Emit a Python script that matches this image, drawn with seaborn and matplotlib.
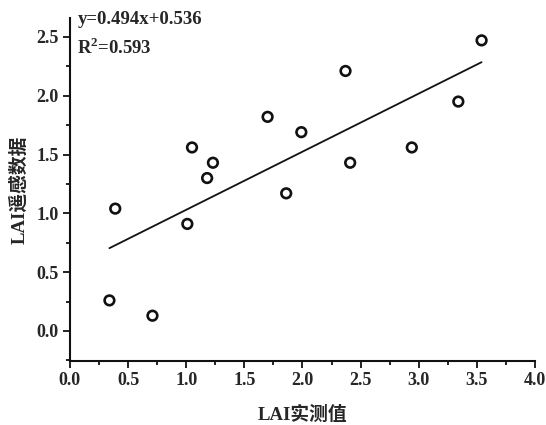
import matplotlib
matplotlib.use("Agg")
import matplotlib.pyplot as plt
import seaborn as sns
import numpy as np
import pandas as pd
from matplotlib.ticker import MultipleLocator

measured = [0.34, 0.39, 0.71, 1.01, 1.05, 1.18, 1.23, 1.70, 1.86, 1.99, 2.37, 2.41, 2.94, 3.34, 3.54]
remote = [0.26, 1.04, 0.13, 0.91, 1.56, 1.30, 1.43, 1.82, 1.17, 1.69, 2.21, 1.43, 1.56, 1.95, 2.47]
slope = 0.494
intercept = 0.536
eq_text = "y=0.494x+0.536"
r2_text = "R$^\\mathbf{2}$=0.593"
x_ticks = [0.0, 0.5, 1.0, 1.5, 2.0, 2.5, 3.0, 3.5, 4.0]
y_ticks = [0.0, 0.5, 1.0, 1.5, 2.0, 2.5]

sns.set_style("ticks")
plt.rcParams['font.family'] = ['Liberation Serif', 'Noto Sans CJK SC']
plt.rcParams['mathtext.fontset'] = 'custom'
plt.rcParams['mathtext.bf'] = 'Liberation Serif:bold'
plt.rcParams['mathtext.rm'] = 'Liberation Serif'

df = pd.DataFrame({"x": measured, "y": remote})

fig = plt.figure(figsize=(5.46, 4.25), dpi=100)
ax = fig.add_axes([0.128, 0.1506, 0.852, 0.807])

sns.scatterplot(data=df, x="x", y="y", ax=ax, s=48, marker="o",
                facecolor="none", edgecolor="#111111", linewidth=1.9, zorder=3)
lx = np.array([min(measured), max(measured)])
sns.lineplot(x=lx, y=slope * lx + intercept, ax=ax, color="#111111", linewidth=1.3)

ax.set_xlim(0, 4.0)
ax.set_ylim(-0.255, 2.66)
ax.set_xticks(x_ticks)
ax.set_yticks(y_ticks)
ax.xaxis.set_minor_locator(MultipleLocator(0.25))
ax.yaxis.set_minor_locator(MultipleLocator(0.25))
ax.set_xticklabels([f"{v:.1f}" for v in x_ticks], fontsize=13, fontweight="bold")
ax.set_yticklabels([f"{v:.1f}" for v in y_ticks], fontsize=13, fontweight="bold")
ax.tick_params(axis="both", which="major", direction="out", length=5, width=1.3, color="#111111", pad=3)
ax.tick_params(axis="both", which="minor", direction="out", length=3, width=1.3, color="#111111")
for s in ["top", "right"]:
    ax.spines[s].set_visible(False)
for s in ["left", "bottom"]:
    ax.spines[s].set_linewidth(1.5)
    ax.spines[s].set_color("#111111")

ax.set_xlabel("LAI实测值", fontsize=13.5, fontweight="bold", labelpad=12)
ax.set_ylabel("LAI遥感数据", fontsize=13.5, fontweight="bold", labelpad=6)

ax.text(0.016, 1.02, eq_text, transform=ax.transAxes, fontsize=13.5,
        fontweight="bold", va="top", ha="left")
ax.text(0.016, 0.945, r2_text, transform=ax.transAxes, fontsize=13.5,
        fontweight="bold", va="top", ha="left")

fig.savefig("out.png", dpi=100, facecolor="white")
